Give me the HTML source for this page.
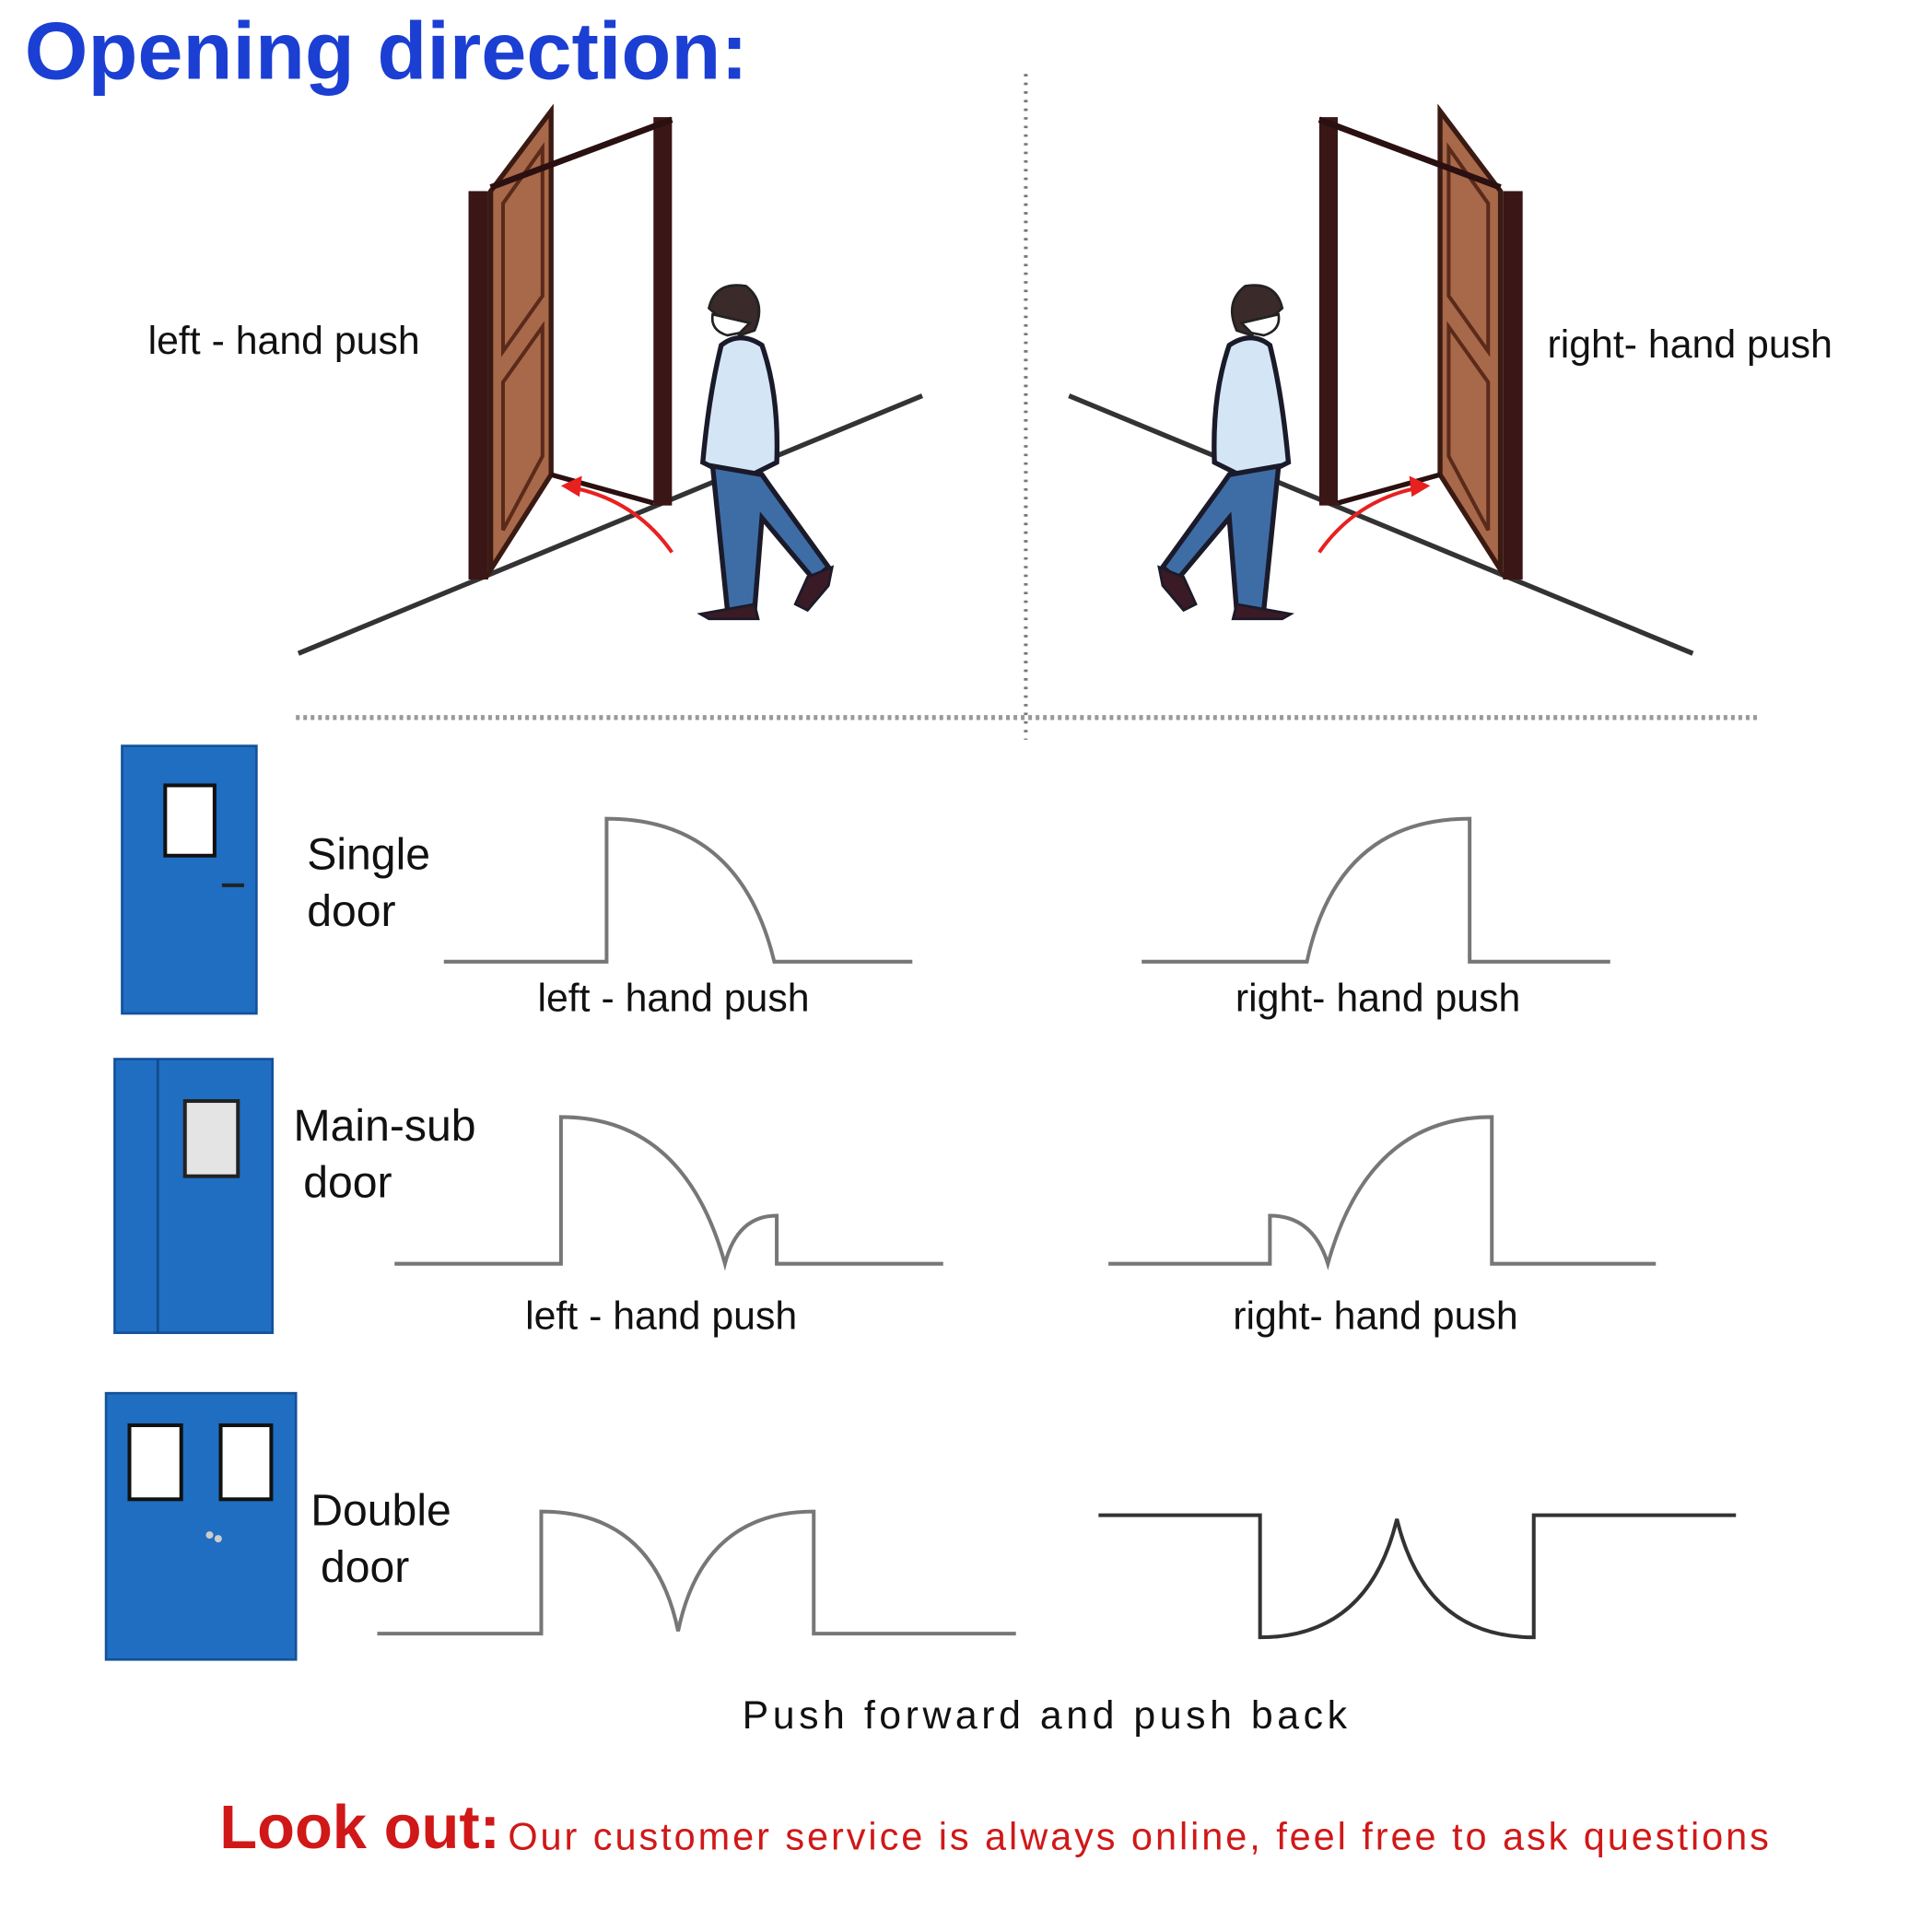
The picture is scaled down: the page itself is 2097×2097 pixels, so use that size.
<!DOCTYPE html>
<html><head><meta charset="utf-8"><style>
html,body{margin:0;padding:0;background:#fff;}
svg{display:block;}
text{font-family:"Liberation Sans","DejaVu Sans",sans-serif;}
</style></head><body>
<svg width="2097" height="2097" viewBox="0 0 1567 1567" xmlns="http://www.w3.org/2000/svg">
<rect width="1567" height="1567" fill="#fff"/>
<text x="20" y="64" font-size="66" font-weight="bold" fill="#1b3fd2">Opening direction:</text>

<line x1="832" y1="60" x2="832" y2="600" stroke="#777" stroke-width="3" stroke-dasharray="2,5"/>
<line x1="240" y1="582" x2="1425" y2="582" stroke="#999" stroke-width="4" stroke-dasharray="3,3"/>

<g id="scene">
  <line x1="242" y1="530" x2="748" y2="321" stroke="#333" stroke-width="4"/>
  <polygon points="398,155 447,90 447,385 398,462" fill="#a8684a" stroke="#3a1a12" stroke-width="4"/>
  <polygon points="408,165 440,120 440,240 408,285" fill="none" stroke="#5a2a1a" stroke-width="3"/>
  <polygon points="408,310 440,265 440,370 408,430" fill="none" stroke="#5a2a1a" stroke-width="3"/>
  <rect x="380" y="155" width="16" height="315" fill="#3a1616"/>
  <rect x="530" y="95" width="15" height="315" fill="#3a1616"/>
  <line x1="398" y1="152" x2="545" y2="97" stroke="#2a1010" stroke-width="5"/>
  <line x1="447" y1="385" x2="530" y2="408" stroke="#2a1010" stroke-width="4"/>
  <path d="M545,448 Q515,405 462,395" fill="none" stroke="#e82020" stroke-width="3"/>
  <polygon points="455,394 472,386 470,403" fill="#e82020"/>
  <path d="M575,250 Q580,228 605,232 Q622,245 612,268 L600,272 Z" fill="#3a2a2a" stroke="#222" stroke-width="2"/>
  <path d="M578,255 Q576,268 590,272 L600,270 L608,262 Z" fill="#fff" stroke="#222" stroke-width="2"/>
  <path d="M585,280 Q600,268 618,280 Q632,320 630,375 L600,390 L570,375 Q575,320 585,280 Z" fill="#d4e6f6" stroke="#1a1a2a" stroke-width="4"/>
  <path d="M578,378 L590,495 L612,495 L618,420 L660,470 L672,460 L625,395 L618,385 Z" fill="#3e6da6" stroke="#1a1a2a" stroke-width="4"/>
  <path d="M568,498 L612,490 L615,502 L575,502 Z" fill="#3a1a24" stroke="#1a1a2a" stroke-width="2"/>
  <path d="M655,468 L675,460 L672,475 L655,495 L645,490 Z" fill="#3a1a24" stroke="#1a1a2a" stroke-width="2"/>
</g>
<use href="#scene" transform="translate(1615,0) scale(-1,1)"/>

<text x="120" y="287" font-size="32" fill="#111">left - hand push</text>
<text x="1255" y="290" font-size="32" fill="#111">right- hand push</text>

<rect x="99" y="605" width="109" height="217" fill="#1f6ec2" stroke="#14519a" stroke-width="2"/>
<rect x="134" y="637" width="40" height="57" fill="#fff" stroke="#111" stroke-width="3"/>
<line x1="180" y1="718" x2="198" y2="718" stroke="#222" stroke-width="3"/>

<rect x="93" y="859" width="128" height="222" fill="#1f6ec2" stroke="#14519a" stroke-width="2"/>
<line x1="128" y1="859" x2="128" y2="1081" stroke="#114a8a" stroke-width="2"/>
<rect x="150" y="893" width="43" height="61" fill="#e4e4e4" stroke="#222" stroke-width="3"/>

<rect x="86" y="1130" width="154" height="216" fill="#1f6ec2" stroke="#14519a" stroke-width="2"/>
<rect x="105" y="1156" width="42" height="60" fill="#fff" stroke="#111" stroke-width="3"/>
<rect x="179" y="1156" width="41" height="60" fill="#fff" stroke="#111" stroke-width="3"/>
<circle cx="170" cy="1245" r="3" fill="#ccc"/><circle cx="177" cy="1248" r="3" fill="#ccc"/>

<g font-size="36" fill="#111">
<text x="249" y="705">Single</text><text x="249" y="751">door</text>
<text x="238" y="925">Main-sub</text><text x="246" y="971">door</text>
<text x="252" y="1237">Double</text><text x="260" y="1283">door</text>
</g>

<g fill="none" stroke="#777" stroke-width="3">
<path d="M360,780 H492 V664 Q600,664 628,780 H740"/>
<path d="M926,780 H1060 Q1085,664 1192,664 V780 H1306"/>
<path d="M320,1025 H455 V906 Q555,906 588,1025 Q598,986 630,986 V1025 H765"/>
<path d="M899,1025 H1030 V986 Q1065,986 1077,1025 Q1110,906 1210,906 V1025 H1343"/>
<path d="M306,1325 H439 V1226 Q530,1226 550,1323 Q570,1226 660,1226 V1325 H824"/>
<path d="M891,1229 H1022 V1328 Q1110,1328 1133,1232 Q1156,1328 1244,1328 V1229 H1408" stroke="#333"/>
</g>

<g font-size="32" fill="#111">
<text x="436" y="820">left - hand push</text>
<text x="1002" y="820">right- hand push</text>
<text x="426" y="1078">left - hand push</text>
<text x="1000" y="1078">right- hand push</text>
<text x="602" y="1402" letter-spacing="3.4">Push forward and push back</text>
</g>

<text x="178" y="1499" font-size="50" font-weight="bold" fill="#d01818">Look out:</text>
<text x="412" y="1500" font-size="31" fill="#d01818" letter-spacing="2.2">Our customer service is always online, feel free to ask questions</text>
</svg>
</body></html>
